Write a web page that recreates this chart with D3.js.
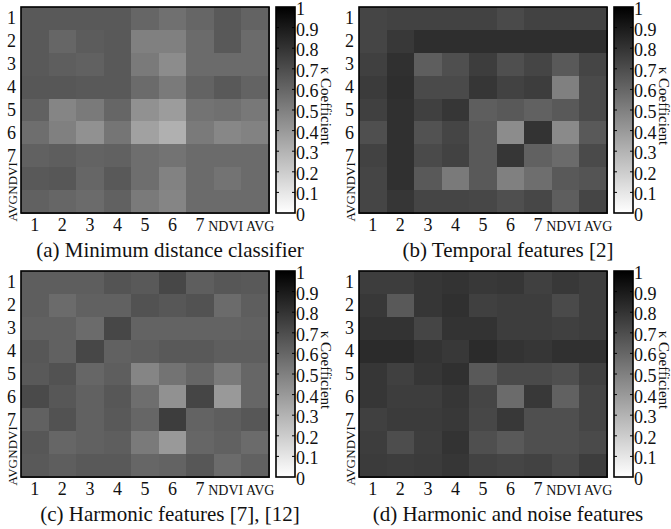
<!DOCTYPE html>
<html>
<head>
<meta http-equiv='Content-Type' content='text/html; charset=UTF-8'/>
<script src="https://cdn.jsdelivr.net/npm/d3@7"></script>
<style>
    body {
        margin: 0;
        background: white;
    }
    svg text {
        font-family: "Liberation Serif", "DejaVu Serif", serif;
        fill: #111;
    }
    .frame {
        fill: none;
        stroke: black;
        stroke-width: 1.6px;
    }
    .cbtick {
        stroke: black;
        stroke-width: 1px;
    }
</style>
</head>
<body>
<svg id="main" width="671" height="529"></svg>

<script>
    // labels of rows / columns (bands used for the features)
    var bands = ["1", "2", "3", "4", "5", "6", "7", "NDVI", "AVG"]
    var cbTicks = [0, 0.1, 0.2, 0.3, 0.4, 0.5, 0.6, 0.7, 0.8, 0.9, 1]

    // kappa values (rows top -> bottom)
    var kappaMinDist = [
        [0.65, 0.65, 0.65, 0.65, 0.60, 0.56, 0.60, 0.65, 0.61],
        [0.65, 0.60, 0.64, 0.65, 0.50, 0.50, 0.58, 0.65, 0.58],
        [0.65, 0.63, 0.62, 0.65, 0.52, 0.45, 0.58, 0.58, 0.58],
        [0.66, 0.66, 0.65, 0.65, 0.58, 0.52, 0.61, 0.65, 0.61],
        [0.62, 0.48, 0.52, 0.60, 0.43, 0.39, 0.55, 0.56, 0.53],
        [0.57, 0.50, 0.43, 0.54, 0.37, 0.31, 0.52, 0.47, 0.49],
        [0.62, 0.63, 0.61, 0.62, 0.57, 0.55, 0.58, 0.58, 0.58],
        [0.65, 0.66, 0.60, 0.65, 0.57, 0.49, 0.58, 0.55, 0.58],
        [0.62, 0.60, 0.58, 0.62, 0.52, 0.48, 0.58, 0.58, 0.58]
    ]
    var kappaTemporal = [
        [0.73, 0.74, 0.74, 0.74, 0.74, 0.71, 0.74, 0.74, 0.74],
        [0.73, 0.78, 0.82, 0.82, 0.82, 0.82, 0.82, 0.82, 0.82],
        [0.75, 0.81, 0.63, 0.69, 0.76, 0.69, 0.73, 0.65, 0.73],
        [0.77, 0.82, 0.71, 0.71, 0.79, 0.74, 0.76, 0.50, 0.71],
        [0.75, 0.81, 0.75, 0.79, 0.63, 0.65, 0.62, 0.65, 0.71],
        [0.69, 0.81, 0.68, 0.73, 0.65, 0.45, 0.80, 0.46, 0.65],
        [0.74, 0.81, 0.71, 0.74, 0.65, 0.79, 0.62, 0.58, 0.71],
        [0.73, 0.81, 0.65, 0.52, 0.65, 0.50, 0.57, 0.65, 0.67],
        [0.73, 0.79, 0.73, 0.73, 0.72, 0.69, 0.72, 0.63, 0.73]
    ]
    var kappaHarmonic = [
        [0.63, 0.63, 0.63, 0.67, 0.65, 0.72, 0.63, 0.66, 0.65],
        [0.63, 0.58, 0.62, 0.62, 0.68, 0.66, 0.68, 0.58, 0.63],
        [0.62, 0.62, 0.58, 0.72, 0.61, 0.61, 0.61, 0.61, 0.62],
        [0.66, 0.62, 0.72, 0.62, 0.63, 0.65, 0.65, 0.63, 0.63],
        [0.65, 0.68, 0.60, 0.63, 0.48, 0.55, 0.60, 0.52, 0.60],
        [0.71, 0.66, 0.62, 0.66, 0.57, 0.43, 0.73, 0.40, 0.60],
        [0.62, 0.68, 0.62, 0.65, 0.60, 0.76, 0.61, 0.63, 0.66],
        [0.66, 0.60, 0.62, 0.63, 0.52, 0.40, 0.60, 0.62, 0.58],
        [0.65, 0.63, 0.65, 0.65, 0.60, 0.61, 0.66, 0.58, 0.62]
    ]
    var kappaHarmNoise = [
        [0.76, 0.76, 0.79, 0.80, 0.78, 0.79, 0.75, 0.78, 0.76],
        [0.78, 0.65, 0.79, 0.81, 0.75, 0.76, 0.76, 0.71, 0.76],
        [0.80, 0.80, 0.73, 0.80, 0.80, 0.76, 0.76, 0.75, 0.76],
        [0.83, 0.83, 0.80, 0.78, 0.83, 0.80, 0.79, 0.81, 0.81],
        [0.79, 0.75, 0.79, 0.81, 0.65, 0.71, 0.71, 0.69, 0.75],
        [0.79, 0.76, 0.76, 0.79, 0.73, 0.58, 0.78, 0.62, 0.73],
        [0.75, 0.77, 0.77, 0.78, 0.72, 0.78, 0.69, 0.69, 0.73],
        [0.76, 0.70, 0.76, 0.80, 0.69, 0.65, 0.69, 0.69, 0.71],
        [0.77, 0.76, 0.77, 0.79, 0.74, 0.73, 0.74, 0.71, 0.76]
    ]

    var captions = [
        "(a) Minimum distance classifier",
        "(b) Temporal features [2]",
        "(c) Harmonic features [7], [12]",
        "(d) Harmonic and noise features"
    ]
    var panels = [
        {data: kappaMinDist, dx: 0, dy: 0},
        {data: kappaTemporal, dx: 338, dy: 0},
        {data: kappaHarmonic, dx: 0, dy: 264},
        {data: kappaHarmNoise, dx: 338, dy: 264}
    ]

    // geometry of one panel
    var hm = {x: 21, y: 7, w: 248, h: 206}
    var cb = {x: 276, w: 19}

    var color = d3.scaleLinear().domain([0, 1]).range(["#ffffff", "#000000"])

    var svg = d3.select("#main")

    // gradient for the colorbar
    var grad = svg.append("defs").append("linearGradient")
        .attr("id", "cbgrad")
        .attr("x1", 0).attr("y1", 1).attr("x2", 0).attr("y2", 0)
    grad.selectAll("stop")
        .data(cbTicks)
        .enter().append("stop")
        .attr("offset", d => d)
        .attr("stop-color", d => color(d))

    var x = d3.scaleBand().domain(bands).range([0, hm.w])
    var y = d3.scaleBand().domain(bands).range([0, hm.h])
    var cbScale = d3.scaleLinear().domain([0, 1]).range([hm.h, 0])

    panels.forEach(function(p, i) {
        var g = svg.append("g")
            .attr("transform", "translate(" + (p.dx + hm.x) + "," + (p.dy + hm.y) + ")")

        // cells
        var cells = []
        p.data.forEach(function(row, r) {
            row.forEach(function(v, c) {
                cells.push({row: bands[r], col: bands[c], v: v})
            })
        })
        g.selectAll("rect.cell")
            .data(cells)
            .enter().append("rect")
            .attr("class", "cell")
            .attr("x", d => x(d.col))
            .attr("y", d => y(d.row))
            .attr("width", x.bandwidth() + 0.5)
            .attr("height", y.bandwidth() + 0.5)
            .attr("fill", d => color(d.v))
            .attr("shape-rendering", "crispEdges")

        g.append("rect")
            .attr("class", "frame")
            .attr("width", hm.w)
            .attr("height", hm.h)

        // x axis labels (the two word labels sit a bit apart)
        var xa = g.append("g")
            .attr("transform", "translate(0," + hm.h + ")")
            .call(d3.axisBottom(x).tickSize(0))
        xa.select(".domain").remove()
        xa.selectAll("text")
            .attr("y", 18).attr("dy", 0)
            .attr("x", d => d == "AVG" ? 5 : (d == "NDVI" ? -2 : 0))
            .attr("fill", "#111")
            .style("font-size", d => d.length > 1 ? "14px" : "18px")

        // y axis labels, NDVI / AVG get turned on their side
        var ya = g.append("g")
            .call(d3.axisLeft(y).tickSize(0))
        ya.select(".domain").remove()
        ya.selectAll("text")
            .attr("fill", "#111")
            .attr("x", -5)
            .style("font-size", "18px")
        ya.selectAll(".tick")
            .filter(d => d.length > 1)
            .select("text")
            .style("font-size", "13px")
            .attr("text-anchor", "start")
            .attr("x", 0).attr("dy", 0)
            .attr("transform", d => "translate(-4," + (d == "AVG" ? 20 : 16) + ") rotate(-90)")

        // colorbar
        var cg = g.append("g")
            .attr("transform", "translate(" + (cb.x - hm.x) + ",0)")
        cg.append("rect")
            .attr("width", cb.w)
            .attr("height", hm.h)
            .attr("fill", "url(#cbgrad)")
        cg.selectAll("line.l")
            .data(cbTicks.slice(1, -1))
            .enter().append("line")
            .attr("class", "cbtick")
            .attr("x1", 0).attr("x2", 3)
            .attr("y1", d => cbScale(d)).attr("y2", d => cbScale(d))
        cg.selectAll("line.r")
            .data(cbTicks.slice(1, -1))
            .enter().append("line")
            .attr("class", "cbtick")
            .attr("x1", cb.w - 3).attr("x2", cb.w)
            .attr("y1", d => cbScale(d)).attr("y2", d => cbScale(d))
        cg.append("rect")
            .attr("class", "frame")
            .attr("width", cb.w)
            .attr("height", hm.h)

        var ca = cg.append("g")
            .attr("transform", "translate(" + cb.w + ",0)")
            .call(d3.axisRight(cbScale).tickValues(cbTicks).tickSize(0).tickPadding(1)
                .tickFormat(d3.format("~g")))
        ca.select(".domain").remove()
        ca.selectAll("text")
            .attr("fill", "#111")
            .attr("dy", "0.42em")
            .style("font-size", "18px")

        cg.append("text")
            .attr("transform", "translate(" + (cb.w + 26) + "," + (hm.h / 2 - 4) + ") rotate(90)")
            .attr("text-anchor", "middle")
            .style("font-size", "15px")
            .text("\u03BA Coefficient")

        // caption
        g.append("text")
            .attr("x", 170 - hm.x)
            .attr("y", 250)
            .attr("text-anchor", "middle")
            .style("font-size", "21px")
            .text(captions[i])
    })
</script>
</body>
</html>
